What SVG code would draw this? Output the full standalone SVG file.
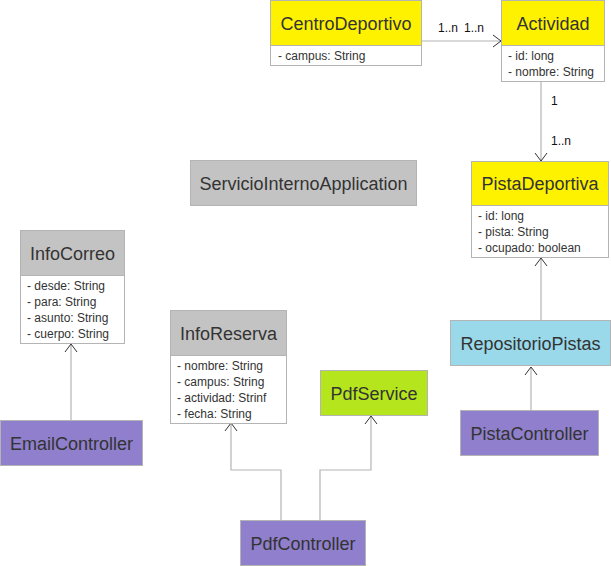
<svg xmlns="http://www.w3.org/2000/svg" width="611" height="566" viewBox="0 0 611 566">
<defs>
<marker id="arr" markerWidth="12" markerHeight="14" refX="10" refY="7" orient="auto" markerUnits="userSpaceOnUse">
<path d="M2,1 L10,7 L2,13" fill="none" stroke="#333" stroke-width="1"/>
</marker>
<style>
.box{stroke:#b4b4b4;stroke-width:1}
.body{fill:#fff}
.yel{fill:#fff200}
.gry{fill:#c3c3c3}
.pur{fill:#8f7fcc}
.blu{fill:#99d9ea}
.grn{fill:#b5e61d}
.t{font-family:"Liberation Sans",Arial,sans-serif;font-size:18px;fill:#333;text-anchor:middle}
.a{font-family:"Liberation Sans",Arial,sans-serif;font-size:12px;fill:#333}
.l{font-family:"Liberation Sans",Arial,sans-serif;font-size:12px;fill:#111}
.c{fill:none;stroke:#b4b4b4;stroke-width:1.2}
</style>
</defs>
<rect width="611" height="566" fill="#fff"/>
<g id="connectors">
<line class="c" x1="421" y1="41" x2="501" y2="41" marker-end="url(#arr)"/>
<text class="l" x="438" y="32">1..n</text>
<text class="l" x="464" y="32">1..n</text>
<line class="c" x1="541" y1="81" x2="541" y2="161" marker-end="url(#arr)"/>
<text class="l" x="551" y="105">1</text>
<text class="l" x="551" y="145">1..n</text>
<line class="c" x1="541" y1="320" x2="541" y2="258" marker-end="url(#arr)"/>
<line class="c" x1="531" y1="410" x2="531" y2="367" marker-end="url(#arr)"/>
<line class="c" x1="71" y1="420" x2="71" y2="344" marker-end="url(#arr)"/>
<polyline class="c" points="281,520 281,470 231,470 231,423" marker-end="url(#arr)"/>
<polyline class="c" points="320,520 320,470 371,470 371,416" marker-end="url(#arr)"/>
</g>
<g id="CentroDeportivo">
<rect class="box body" x="270.5" y="0.5" width="151" height="65"/>
<rect class="box yel" x="270.5" y="0.5" width="151" height="45"/>
<text class="t" x="346" y="30">CentroDeportivo</text>
<text class="a" x="278" y="60">- campus: String</text>
</g>
<g id="Actividad">
<rect class="box body" x="501.5" y="0.5" width="103" height="81"/>
<rect class="box yel" x="501.5" y="0.5" width="103" height="45"/>
<text class="t" x="553" y="30">Actividad</text>
<text class="a" x="508" y="60">- id: long</text>
<text class="a" x="508" y="76">- nombre: String</text>
</g>
<g id="PistaDeportiva">
<rect class="box body" x="471.5" y="161.5" width="137" height="96"/>
<rect class="box yel" x="471.5" y="161.5" width="137" height="44"/>
<text class="t" x="540" y="190">PistaDeportiva</text>
<text class="a" x="478" y="220">- id: long</text>
<text class="a" x="478" y="236">- pista: String</text>
<text class="a" x="478" y="252">- ocupado: boolean</text>
</g>
<g id="ServicioInternoApplication">
<rect class="box gry" x="190.5" y="160.5" width="226" height="45"/>
<text class="t" x="303.5" y="190">ServicioInternoApplication</text>
</g>
<g id="InfoCorreo">
<rect class="box body" x="20.5" y="230.5" width="104" height="113"/>
<rect class="box gry" x="20.5" y="230.5" width="104" height="45"/>
<text class="t" x="72.5" y="260">InfoCorreo</text>
<text class="a" x="27" y="290">- desde: String</text>
<text class="a" x="27" y="306">- para: String</text>
<text class="a" x="27" y="322">- asunto: String</text>
<text class="a" x="27" y="338">- cuerpo: String</text>
</g>
<g id="InfoReserva">
<rect class="box body" x="170.5" y="310.5" width="116" height="113"/>
<rect class="box gry" x="170.5" y="310.5" width="116" height="45"/>
<text class="t" x="228.5" y="340">InfoReserva</text>
<text class="a" x="177" y="370">- nombre: String</text>
<text class="a" x="177" y="386">- campus: String</text>
<text class="a" x="177" y="402">- actividad: Strinf</text>
<text class="a" x="177" y="418">- fecha: String</text>
</g>
<g id="PdfService">
<rect class="box grn" x="320.5" y="370.5" width="107" height="45"/>
<text class="t" x="374" y="400">PdfService</text>
</g>
<g id="RepositorioPistas">
<rect class="box blu" x="450.5" y="320.5" width="160" height="45"/>
<text class="t" x="530.5" y="350">RepositorioPistas</text>
</g>
<g id="PistaController">
<rect class="box pur" x="460.5" y="410.5" width="138" height="45"/>
<text class="t" x="529.5" y="440">PistaController</text>
</g>
<g id="EmailController">
<rect class="box pur" x="0.5" y="420.5" width="142" height="45"/>
<text class="t" x="71.5" y="450">EmailController</text>
</g>
<g id="PdfController">
<rect class="box pur" x="240.5" y="520.5" width="125" height="45"/>
<text class="t" x="303" y="550">PdfController</text>
</g>
</svg>
